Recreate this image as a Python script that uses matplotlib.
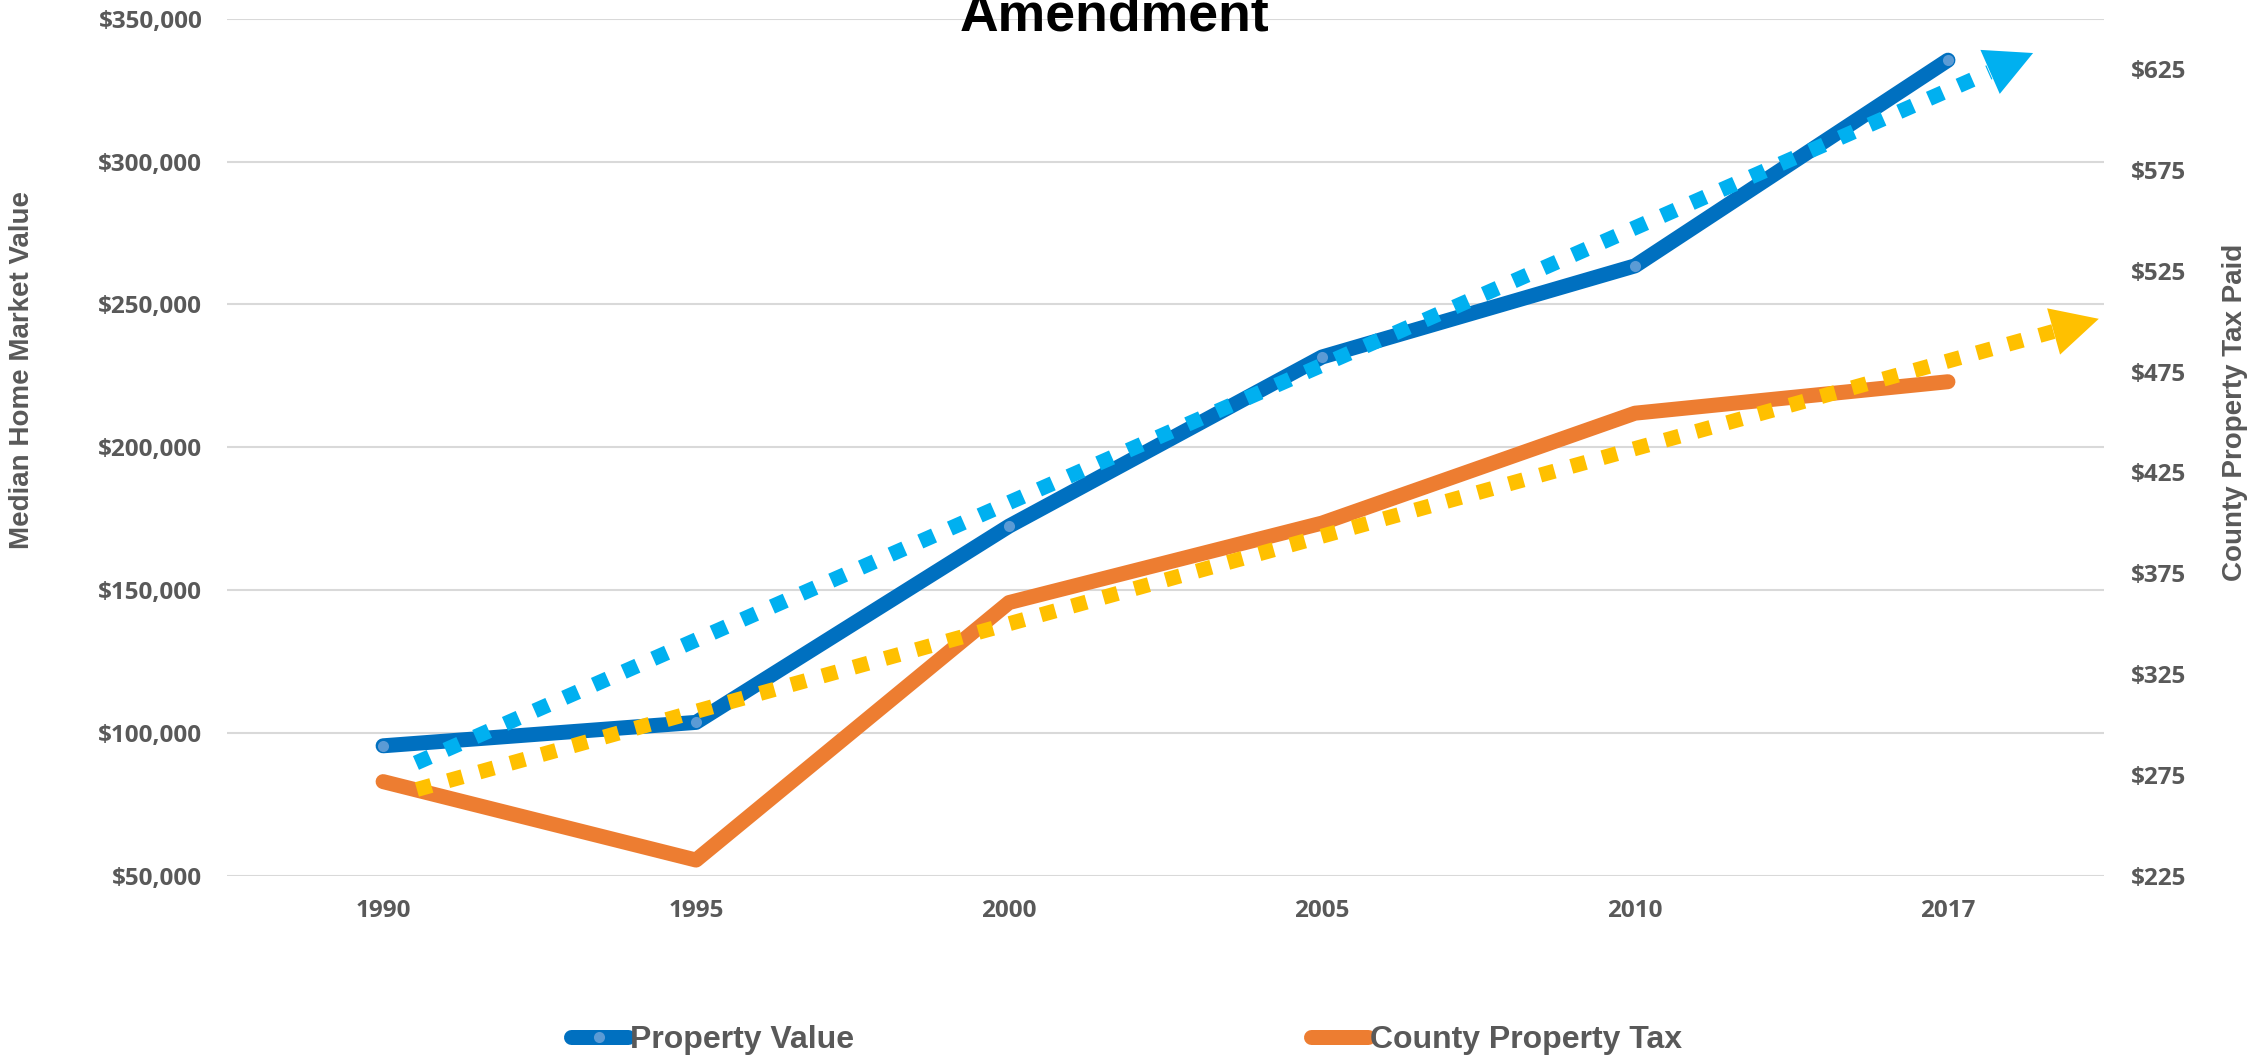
import matplotlib
matplotlib.use("Agg")
import matplotlib.pyplot as plt
from matplotlib.lines import Line2D
from matplotlib.ticker import FuncFormatter

# data
years = ["1990", "1995", "2000", "2005", "2010", "2017"]
property_value = [95500, 103700, 172400, 231600, 263500, 335500]
county_tax = [271.7, 232.8, 360.5, 399.9, 454.4, 470.0]

# trend arrows (start / tip in category index and axis units)
value_trend_x = [0.105, 5.272]
value_trend_y = [89500, 338000]
tax_trend_x = [0.108, 5.482]
tax_trend_y = [267.8, 501.2]

left_ticks = [50000, 100000, 150000, 200000, 250000, 300000, 350000]
right_ticks = [225, 275, 325, 375, 425, 475, 525, 575, 625]

grey = "#595959"
blue = "#0070C0"
orange = "#ED7D31"
light_blue = "#00B0F0"
gold = "#FFC000"

fig = plt.figure(figsize=(22.66, 10.59), dpi=100)
ax = fig.add_axes([0.1, 0.173, 0.8287, 0.8093])
ax2 = ax.twinx()

x = list(range(len(years)))

ax.plot(x, property_value, color=blue, lw=10.8, solid_capstyle="round",
        solid_joinstyle="round", marker="o", markersize=8,
        markerfacecolor="#5B9BD5", markeredgewidth=0, zorder=3)
ax2.plot(x, county_tax, color=orange, lw=10.8, solid_capstyle="round",
         solid_joinstyle="round", zorder=3)


def trend(axis, xs, ys, color):
    # dotted shaft up to the arrow head, then a filled head
    f = 0.973
    bx = xs[0] + f * (xs[1] - xs[0])
    by = ys[0] + f * (ys[1] - ys[0])
    axis.plot([xs[0], bx], [ys[0], by], color=color, lw=10.8,
              linestyle=(0, (1, 1.16)), dash_capstyle="butt", zorder=5)
    axis.annotate("", xy=(xs[1], ys[1]), xytext=(bx, by),
                  arrowprops=dict(arrowstyle="-|>,head_length=33.8,head_width=17.3",
                                  mutation_scale=1, color=color, lw=0,
                                  shrinkA=0, shrinkB=0), zorder=5)


trend(ax, value_trend_x, value_trend_y, light_blue)
trend(ax2, tax_trend_x, tax_trend_y, gold)

ax.set_xlim(-0.5, 5.5)
ax.set_ylim(50000, 350000)
ax2.set_ylim(225, 650)
ax.set_xticks(x)
ax.set_xticklabels(years)
ax.set_yticks(left_ticks)
ax2.set_yticks(right_ticks)
ax.yaxis.set_major_formatter(FuncFormatter(lambda v, p: "${:,.0f}".format(v)))
ax2.yaxis.set_major_formatter(FuncFormatter(lambda v, p: "${:,.0f}".format(v)))

ax.grid(axis="y", color="#D9D9D9", lw=1.5)
ax.set_axisbelow(True)
for a in (ax, ax2):
    for s in a.spines.values():
        s.set_visible(False)
ax.tick_params(axis="both", length=0, colors=grey)
ax.tick_params(axis="y", pad=17.5)
ax.tick_params(axis="x", pad=17)
ax2.tick_params(axis="y", length=0, colors=grey, pad=19)

for lab in ax.get_xticklabels() + ax.get_yticklabels() + ax2.get_yticklabels():
    lab.set_fontfamily("Open Sans")
    lab.set_fontweight("bold")
    lab.set_fontsize(17.5)

fig.text(0.0097, 0.6506, "Median Home Market Value", rotation=90, ha="center",
         va="center", fontsize=20, fontweight="bold", color=grey,
         family="Liberation Sans")
fig.text(0.9863, 0.611, "County Property Tax Paid", rotation=90, ha="center",
         va="center", fontsize=20, fontweight="bold", color=grey,
         family="Liberation Sans")

fig.text(0.492, 1 - 30.7 / 1059, "Amendment", ha="center", va="baseline",
         fontsize=38.5, fontweight="bold", color="black", family="Liberation Sans")

handles = [
    Line2D([], [], color=blue, lw=10.8, solid_capstyle="round", marker="o",
           markersize=8, markerfacecolor="#5B9BD5", markeredgewidth=0),
    Line2D([], [], color=orange, lw=10.8, solid_capstyle="round", marker="o",
           markersize=8, markerfacecolor=orange, markeredgewidth=0),
]
leg = fig.legend(handles, ["Property Value", "County Property Tax"], loc="center",
                 bbox_to_anchor=(0.497, 0.018), ncol=2, frameon=False,
                 handlelength=1.8, handletextpad=0.05, columnspacing=14.3,
                 prop=dict(family="Liberation Sans", weight="bold", size=23))
for t in leg.get_texts():
    t.set_color(grey)

fig.savefig("out.png", dpi=100)
